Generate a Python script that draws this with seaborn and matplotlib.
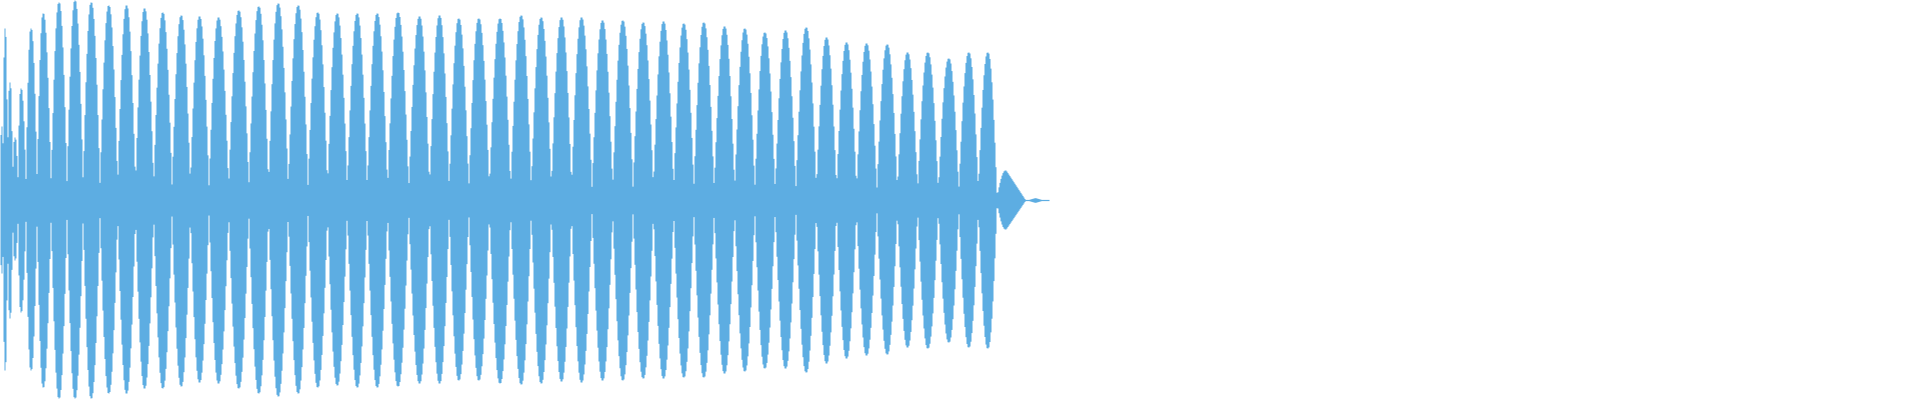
import numpy as np
import pandas as pd
import matplotlib.pyplot as plt
import seaborn as sns

# lobe centres (pixel columns) and peak heights above / below the midline (px of 200)
lobe_x = [1.3, 4.5, 9.5, 14.5, 20.5, 30.5, 42.7, 58.5, 74.5, 90.7,
          108.3, 126, 144, 162.3, 180.7, 199, 218, 238.3, 258.3, 277.7,
          297.7, 317.3, 336.7, 356.7, 376.7, 397.5, 419, 439, 458.3, 478.3,
          499.5, 520.7, 540.7, 561, 581, 602, 622.3, 642.7, 663, 683.3,
          703.3, 724, 744.3, 764.3, 785, 805.7, 826, 846, 866, 886.7,
          907, 927.3, 948.3, 968.3, 987.3, 1005.3, 1035]
lobe_top = [74, 172, 118, 63, 112, 172, 187, 198, 200, 198,
            195, 195, 192, 188, 185, 184, 183, 190, 194, 197,
            195, 188, 187, 187, 187, 188, 184, 185, 182, 182,
            182, 185, 183, 183, 183, 180, 180, 178, 179, 177,
            178, 174, 172, 168, 170, 173, 163, 158, 157, 156,
            148, 148, 142, 148, 148, 30, 2.3]
lobe_bottom = [73, 170, 118, 60, 112, 170, 187, 198, 198, 198,
               193, 193, 188, 188, 186, 182, 183, 188, 193, 196,
               193, 187, 185, 187, 187, 186, 183, 183, 180, 180,
               183, 184, 183, 181, 182, 180, 180, 178, 178, 177,
               177, 173, 171, 168, 168, 172, 163, 158, 155, 154,
               147, 148, 142, 147, 148, 29, 2.3]
# noise band level in the gaps before each of the first lobes, then the usual band
gap_floor = [37, 33, 17, 18, 18, 18, 20]
band = 8
tail_band = 0.6
# where the two decaying tail lobes die out (right side)
tail_ends = [1025, 1043]
end_x = 1049

color = '#5DADE2'

c = np.array(lobe_x)
n = len(c)
fine = np.arange(0, end_x, 0.1)


def envelope(amps):
    env = np.zeros_like(fine)
    for i in range(n):
        left = c[i] - (c[i - 1] if i > 0 else -c[i])
        right = (c[i + 1] if i < n - 1 else end_x) - c[i]
        d = fine - c[i]
        h = np.where(d < 0, left / 2, right / 2)
        prof = np.where(np.abs(d) < h, amps[i] * np.cos(np.pi / 2 * np.abs(d) / h), 0)
        if i >= n - 2:
            hr = tail_ends[i - (n - 2)] - c[i]
            lin = np.clip(amps[i] * (1 - d / hr), 0, None)
            prof = np.where(d >= 0, lin, prof)
            if i == n - 1:
                hl = c[i] - 1027
                prof = np.where(d < 0, np.clip(amps[i] * (1 + d / hl), 0, None), prof)
        env = np.maximum(env, prof)
    # noise floor between lobes
    idx = np.searchsorted(c, fine)
    floor = np.full_like(fine, band, dtype=float)
    for k, f in enumerate(gap_floor):
        floor[idx == k] = f
    floor[fine > c[-3]] = tail_band
    return np.maximum(env, floor)


top = envelope(lobe_top)
bot = envelope(lobe_bottom)

# reduce to pixel columns like a waveform view
cols = np.floor(fine).astype(int)
df = pd.DataFrame({'col': cols, 'top': top, 'bot': bot}).groupby('col').max().reset_index()
xcol = np.append(df['col'].values, df['col'].values[-1] + 1)
tcol = np.append(df['top'].values, df['top'].values[-1])
bcol = np.append(df['bot'].values, df['bot'].values[-1])

sns.set_theme(style='white')
fig = plt.figure(figsize=(19.2, 4), dpi=100)
ax = fig.add_axes([0, 0, 1, 1])
ax.fill_between(xcol, -bcol, tcol, step='post', color=color, linewidth=0)
ax.set_xlim(0, 1920)
ax.set_ylim(-200, 200)
ax.axis('off')

plt.savefig('out.png', dpi=100, facecolor='white')
